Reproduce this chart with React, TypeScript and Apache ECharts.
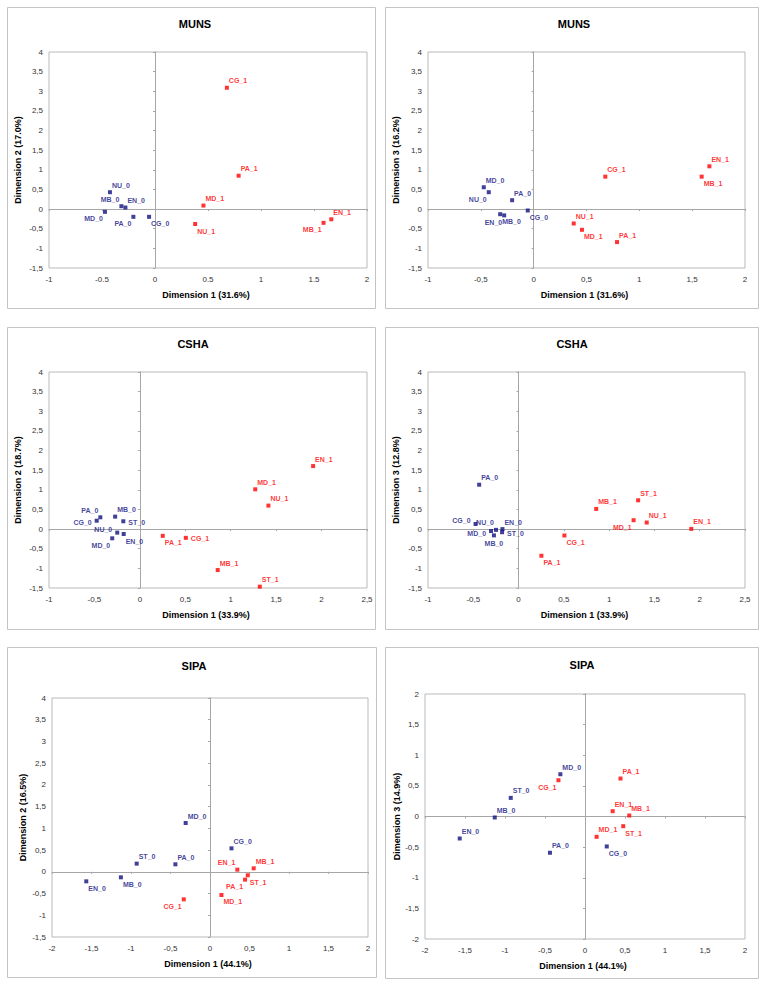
import React, { useEffect, useRef } from "react";
import * as echarts from "echarts";

// ---------- DATA ----------
const MUNS_NAMES = ["CG_0", "EN_0", "MB_0", "MD_0", "NU_0", "PA_0", "CG_1", "EN_1", "MB_1", "MD_1", "NU_1", "PA_1"];
const MUNS_DIM1 = [-0.056, -0.279, -0.317, -0.472, -0.425, -0.204, 0.678, 1.663, 1.59, 0.457, 0.379, 0.789];
const MUNS_DIM2 = [-0.197, 0.04, 0.074, -0.07, 0.43, -0.197, 3.09, -0.26, -0.35, 0.09, -0.38, 0.85];
const MUNS_DIM3 = [-0.036, -0.16, -0.13, 0.556, 0.43, 0.226, 0.826, 1.09, 0.826, -0.528, -0.367, -0.84];

const CSHA_NAMES = ["CG_0", "EN_0", "MB_0", "MD_0", "NU_0", "PA_0", "ST_0", "CG_1", "EN_1", "MB_1", "MD_1", "NU_1", "PA_1", "ST_1"];
const CSHA_DIM1 = [-0.475, -0.178, -0.272, -0.304, -0.249, -0.435, -0.182, 0.506, 1.907, 0.857, 1.27, 1.415, 0.252, 1.32];
const CSHA_DIM2 = [0.214, -0.125, 0.317, -0.235, -0.09, 0.3, 0.199, -0.223, 1.605, -1.043, 1.013, 0.598, -0.172, -1.466];
const CSHA_DIM3 = [0.13, 0, -0.16, -0.05, -0.02, 1.13, -0.08, -0.163, 0.006, 0.514, 0.226, 0.167, -0.679, 0.733];

const SIPA_NAMES = ["CG_0", "EN_0", "MB_0", "MD_0", "PA_0", "ST_0", "CG_1", "EN_1", "MB_1", "MD_1", "PA_1", "ST_1"];
const SIPA_DIM1 = [0.272, -1.566, -1.128, -0.308, -0.438, -0.928, -0.332, 0.346, 0.553, 0.145, 0.444, 0.478];
const SIPA_DIM2 = [0.54, -0.219, -0.127, 1.123, 0.173, 0.188, -0.633, 0.05, 0.08, -0.533, -0.18, -0.08];
const SIPA_DIM3 = [-0.489, -0.359, -0.016, 0.69, -0.592, 0.304, 0.592, 0.087, 0.016, -0.332, 0.62, -0.158];

const TITLES = ["MUNS", "MUNS", "CSHA", "CSHA", "SIPA", "SIPA"];
const X_TITLES = ["Dimension 1 (31.6%)", "Dimension 1 (31.6%)", "Dimension 1 (33.9%)", "Dimension 1 (33.9%)", "Dimension 1 (44.1%)", "Dimension 1 (44.1%)"];
const Y_TITLES = ["Dimension 2 (17.0%)", "Dimension 3 (16.2%)", "Dimension 2 (18.7%)", "Dimension 3 (12.8%)", "Dimension 2 (16.5%)", "Dimension 3 (14.9%)"];
const X_RANGES = [[-1, 2], [-1, 2], [-1, 2.5], [-1, 2.5], [-2, 2], [-2, 2]];
const Y_RANGES = [[-1.5, 4], [-1.5, 4], [-1.5, 4], [-1.5, 4], [-1.5, 4], [-2, 2]];
const TICK_STEP = 0.5;
const X_DECIMAL = [".", ",", ",", ",", ",", ","];

// label placement codes per point (same order as names)
const LBL_MUNS_A = ["br", "tr", "tl", "bl", "tr", "bl", "tr", "tr", "bl", "tr", "br", "tr"];
const LBL_MUNS_B = ["br", "bl", "br", "tr", "bl", "tr", "tr", "tr", "br", "br", "tr", "tr"];
const LBL_CSHA_A = ["l", "br", "tr", "bl", "lu", "tl", "r", "r", "tr", "tr", "tr", "tr", "br", "tr"];
const LBL_CSHA_B = ["lu", "tr", "b", "l", "tl", "tr", "r", "br", "tr", "tr", "bl", "tr", "br", "tr"];
const LBL_SIPA_A = ["tr", "br", "br", "tr", "tr", "tr", "bl", "tl", "tr", "br", "bl", "br"];
const LBL_SIPA_B = ["br", "tr", "tr", "tr", "tr", "tr", "bl", "tr", "tr", "tr", "tr", "br"];

const PANEL_DATA = [
  { names: MUNS_NAMES, x: MUNS_DIM1, y: MUNS_DIM2, lbl: LBL_MUNS_A },
  { names: MUNS_NAMES, x: MUNS_DIM1, y: MUNS_DIM3, lbl: LBL_MUNS_B },
  { names: CSHA_NAMES, x: CSHA_DIM1, y: CSHA_DIM2, lbl: LBL_CSHA_A },
  { names: CSHA_NAMES, x: CSHA_DIM1, y: CSHA_DIM3, lbl: LBL_CSHA_B },
  { names: SIPA_NAMES, x: SIPA_DIM1, y: SIPA_DIM2, lbl: LBL_SIPA_A },
  { names: SIPA_NAMES, x: SIPA_DIM1, y: SIPA_DIM3, lbl: LBL_SIPA_B },
];

// ---------- LAYOUT ----------
const LAYOUT = [
  { left: 49, top: 52, width: 318, height: 216, box: [7, 7, 368, 301], tx: 195, ty: 24, ytx: 18 },
  { left: 428, top: 52, width: 317, height: 216, box: [385, 7, 373, 301], tx: 574, ty: 24, ytx: 396 },
  { left: 49, top: 372, width: 318, height: 216, box: [7, 327, 368, 302], tx: 193, ty: 344, ytx: 18 },
  { left: 428, top: 372, width: 317, height: 216, box: [385, 327, 373, 302], tx: 572, ty: 344, ytx: 396 },
  { left: 52, top: 698, width: 316, height: 239, box: [7, 647, 369, 330], tx: 194, ty: 666, ytx: 23 },
  { left: 425, top: 694, width: 320, height: 245, box: [385, 647, 373, 331], tx: 582, ty: 665, ytx: 397 },
];

const FONT = "'Liberation Sans', Arial, Helvetica, sans-serif";
const BLUE = "#10107f";
const RED = "#ff0000";
const SYM = 4;

function labelFor(code: string) {
  const c = SYM / 2;
  switch (code) {
    case "tr": return { position: [c + 2, c - 7], align: "left" };
    case "tl": return { position: [c - 2, c - 7], align: "right" };
    case "br": return { position: [c + 2, c + 7], align: "left" };
    case "bl": return { position: [c - 2, c + 7], align: "right" };
    case "r": return { position: [c + 5, c + 1], align: "left" };
    case "l": return { position: [c - 5, c + 2], align: "right" };
    case "lu": return { position: [c - 5, c - 3], align: "right" };
    case "b": return { position: [c, c + 8], align: "center" };
    default: return { position: [c + 2, c - 7], align: "left" };
  }
}

function fmt(sep: string) {
  return (v: number) => {
    const s = String(Math.round(v * 10) / 10);
    return sep === "," ? s.replace(".", ",") : s;
  };
}

function buildOption() {
  const grid: any[] = [];
  const xAxis: any[] = [];
  const yAxis: any[] = [];
  const series: any[] = [];
  const graphic: any[] = [];

  LAYOUT.forEach((L, i) => {
    grid.push({
      left: L.left, top: L.top, width: L.width, height: L.height,
      show: true, borderColor: "#b9b9b9", borderWidth: 1, backgroundColor: "transparent",
    });
    const [xmin, xmax] = X_RANGES[i];
    const [ymin, ymax] = Y_RANGES[i];
    // label axes
    xAxis.push({
      type: "value", gridIndex: i, min: xmin, max: xmax, interval: TICK_STEP, position: "bottom",
      axisLine: { show: false, onZero: false }, axisTick: { show: false }, splitLine: { show: false },
      axisLabel: { fontSize: 8, color: "#333", margin: 7, fontFamily: FONT, formatter: fmt(X_DECIMAL[i]) },
    });
    // zero-line axis
    xAxis.push({
      type: "value", gridIndex: i, min: xmin, max: xmax, interval: TICK_STEP, position: "bottom",
      axisLine: { show: true, onZero: true, lineStyle: { color: "#a6a6a6", width: 1 } },
      axisTick: { show: true, length: 2, lineStyle: { color: "#a6a6a6" } },
      axisLabel: { show: false }, splitLine: { show: false },
    });
    yAxis.push({
      type: "value", gridIndex: i, min: ymin, max: ymax, interval: TICK_STEP, position: "left",
      axisLine: { show: false, onZero: false }, axisTick: { show: false }, splitLine: { show: false },
      axisLabel: { fontSize: 8, color: "#333", margin: 6, fontFamily: FONT, formatter: fmt(",") },
    });
    yAxis.push({
      type: "value", gridIndex: i, min: ymin, max: ymax, interval: TICK_STEP, position: "left",
      axisLine: { show: true, onZero: true, lineStyle: { color: "#a6a6a6", width: 1 } },
      axisTick: { show: true, length: 2, lineStyle: { color: "#a6a6a6" } },
      axisLabel: { show: false }, splitLine: { show: false },
    });

    const D = PANEL_DATA[i];
    const groups = [
      { suffix: "_0", color: BLUE },
      { suffix: "_1", color: RED },
    ];
    groups.forEach((g) => {
      const data: any[] = [];
      D.names.forEach((n, k) => {
        if (!n.endsWith(g.suffix)) return;
        const lp = labelFor(D.lbl[k]);
        data.push({
          name: n,
          value: [D.x[k], D.y[k]],
          label: { position: lp.position, align: lp.align, verticalAlign: "middle" },
        });
      });
      series.push({
        type: "scatter",
        xAxisIndex: 2 * i,
        yAxisIndex: 2 * i,
        symbol: "rect",
        symbolSize: SYM,
        itemStyle: { color: g.color },
        label: {
          show: true, formatter: "{b}", color: g.color, fontSize: 7, fontWeight: "bold", fontFamily: FONT,
        },
        emphasis: { disabled: true },
        data,
      });
    });

    const [bx, by, bw, bh] = L.box;
    graphic.push({
      type: "rect", silent: true,
      shape: { x: bx + 0.5, y: by + 0.5, width: bw, height: bh },
      style: { fill: "none", stroke: "#c4c4c4", lineWidth: 1 },
    });
    graphic.push({
      type: "text", silent: true, x: L.tx, y: L.ty,
      style: { text: TITLES[i], font: `bold 11px ${FONT}`, fill: "#000", align: "center", verticalAlign: "middle", textAlign: "center", textVerticalAlign: "middle" },
    });
    graphic.push({
      type: "text", silent: true, x: L.left + L.width / 2 - 2, y: L.top + L.height + 27,
      style: { text: X_TITLES[i], font: `bold 9px ${FONT}`, fill: "#000", align: "center", verticalAlign: "middle", textAlign: "center", textVerticalAlign: "middle" },
    });
    graphic.push({
      type: "text", silent: true, x: L.ytx, y: L.top + L.height / 2, rotation: Math.PI / 2,
      style: { text: Y_TITLES[i], font: `bold 9px ${FONT}`, fill: "#000", align: "center", verticalAlign: "middle", textAlign: "center", textVerticalAlign: "middle" },
    });
  });

  return {
    animation: false,
    backgroundColor: "#ffffff",
    textStyle: { fontFamily: FONT },
    grid, xAxis, yAxis, series, graphic,
  };
}

export default function App() {
  const ref = useRef<HTMLDivElement>(null);
  useEffect(() => {
    if (!ref.current) return;
    const chart = echarts.init(ref.current, undefined, { renderer: "svg" });
    chart.setOption(buildOption() as any);
    return () => chart.dispose();
  }, []);
  return (
    <div
      ref={ref}
      style={{ position: "absolute", left: 0, top: 0, width: 765, height: 984 }}
    />
  );
}
